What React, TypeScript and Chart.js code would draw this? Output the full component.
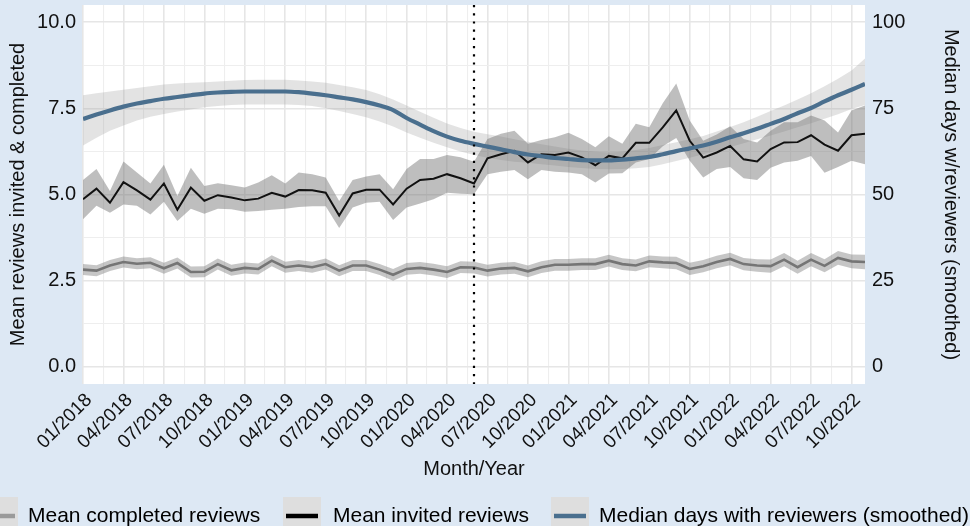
import React, { useEffect, useRef } from "react";
import { Chart, registerables } from "chart.js";
Chart.register(...registerables);

// ---------- data (monthly, 01/2018 .. 11/2022) ----------
const seriesNames = ["Mean completed reviews", "Mean invited reviews", "Median days with reviewers (smoothed)"];

const tickMonths = [0, 3, 6, 9, 12, 15, 18, 21, 24, 27, 30, 33, 36, 39, 42, 45, 48, 51, 54, 57];
const tickLabels = [
  "01/2018", "04/2018", "07/2018", "10/2018", "01/2019", "04/2019", "07/2019", "10/2019",
  "01/2020", "04/2020", "07/2020", "10/2020", "01/2021", "04/2021", "07/2021", "10/2021",
  "01/2022", "04/2022", "07/2022", "10/2022",
];
const leftTicks = [0, 2.5, 5, 7.5, 10];
const rightTicks = [0, 25, 50, 75, 100];
const covidMonth = 29; // 06/2020 dotted marker

const invited = [
  4.86, 5.17, 4.76, 5.36, 5.12, 4.85, 5.32, 4.56, 5.20, 4.82,
  4.98, 4.91, 4.83, 4.88, 5.05, 4.94, 5.13, 5.12, 5.05, 4.39,
  5.03, 5.14, 5.14, 4.71, 5.17, 5.42, 5.46, 5.59, 5.47, 5.32,
  6.05, 6.17, 6.27, 5.93, 6.17, 6.15, 6.22, 6.08, 5.85, 6.12,
  6.05, 6.50, 6.50, 6.95, 7.44, 6.56, 6.07, 6.22, 6.41, 6.02,
  5.96, 6.32, 6.51, 6.52, 6.72, 6.45, 6.27, 6.72, 6.76,
];
const invitedHi = [
  5.42, 5.74, 5.10, 5.96, 5.64, 5.32, 5.86, 4.96, 5.78, 5.25,
  5.33, 5.27, 5.20, 5.35, 5.56, 5.32, 5.64, 5.59, 5.49, 4.81,
  5.42, 5.52, 5.59, 5.15, 5.74, 6.03, 6.03, 6.15, 6.08, 5.95,
  6.61, 6.76, 6.85, 6.47, 6.58, 6.66, 6.79, 6.61, 6.37, 6.69,
  6.47, 7.05, 6.95, 7.65, 8.22, 7.15, 6.56, 6.74, 6.98, 6.61,
  6.51, 6.85, 7.10, 7.10, 7.29, 7.15, 6.80, 7.44, 7.58,
];
const invitedLo = [
  4.28, 4.67, 4.47, 4.71, 4.67, 4.42, 4.79, 4.23, 4.59, 4.44,
  4.59, 4.57, 4.50, 4.52, 4.56, 4.59, 4.64, 4.66, 4.66, 4.03,
  4.62, 4.76, 4.79, 4.26, 4.62, 4.74, 4.86, 5.05, 5.02, 5.01,
  5.59, 5.66, 5.71, 5.44, 5.71, 5.66, 5.64, 5.59, 5.35, 5.61,
  5.62, 5.93, 6.03, 6.40, 6.64, 5.98, 5.49, 5.74, 5.80, 5.47,
  5.42, 5.78, 5.93, 5.98, 6.12, 5.63, 5.80, 5.98, 5.88,
];

const completed = [
  2.82, 2.79, 2.94, 3.04, 2.99, 3.02, 2.86, 3.01, 2.75, 2.76,
  2.98, 2.80, 2.87, 2.84, 3.08, 2.89, 2.94, 2.89, 2.98, 2.79,
  2.94, 2.94, 2.82, 2.67, 2.84, 2.87, 2.82, 2.75, 2.89, 2.88,
  2.79, 2.85, 2.87, 2.77, 2.89, 2.96, 2.96, 2.98, 2.98, 3.08,
  2.98, 2.94, 3.06, 3.03, 3.01, 2.84, 2.92, 3.04, 3.13, 2.98,
  2.94, 2.92, 3.11, 2.89, 3.11, 2.93, 3.16, 3.06, 3.04,
];
const completedHi = [
  2.98, 2.95, 3.10, 3.20, 3.15, 3.18, 3.02, 3.17, 2.91, 2.92,
  3.14, 2.96, 3.03, 3.00, 3.24, 3.05, 3.10, 3.05, 3.14, 2.95,
  3.10, 3.10, 2.98, 2.84, 3.01, 3.04, 2.99, 2.92, 3.06, 3.05,
  2.96, 3.02, 3.04, 2.94, 3.06, 3.13, 3.13, 3.15, 3.15, 3.25,
  3.15, 3.11, 3.23, 3.20, 3.19, 3.02, 3.10, 3.22, 3.31, 3.16,
  3.12, 3.11, 3.30, 3.08, 3.30, 3.12, 3.36, 3.26, 3.25,
];
const completedLo = [
  2.66, 2.63, 2.78, 2.88, 2.83, 2.86, 2.70, 2.85, 2.59, 2.60,
  2.82, 2.64, 2.71, 2.68, 2.92, 2.73, 2.78, 2.73, 2.82, 2.63,
  2.78, 2.78, 2.66, 2.50, 2.67, 2.70, 2.65, 2.58, 2.72, 2.71,
  2.62, 2.68, 2.70, 2.60, 2.72, 2.79, 2.79, 2.81, 2.81, 2.91,
  2.81, 2.77, 2.89, 2.86, 2.83, 2.66, 2.74, 2.86, 2.95, 2.80,
  2.76, 2.73, 2.92, 2.70, 2.92, 2.74, 2.96, 2.86, 2.83,
];

const medianDays = [
  71.9, 73.2, 74.4, 75.5, 76.4, 77.1, 77.8, 78.3, 78.8, 79.3,
  79.6, 79.8, 79.9, 79.9, 79.9, 79.9, 79.7, 79.3, 78.8, 78.2,
  77.6, 76.8, 75.8, 74.5, 72.2, 70.3, 68.4, 66.8, 65.6, 64.7,
  63.9, 63.1, 62.3, 61.6, 61.1, 60.6, 60.3, 60.0, 59.9, 59.9,
  60.1, 60.5, 60.9, 61.7, 62.6, 63.4, 64.2, 65.3, 66.6, 67.8,
  69.1, 70.5, 71.9, 73.6, 75.1, 77.0, 78.8, 80.4, 82.1,
];
const medianDaysHi = [
  78.8, 79.4, 79.9, 80.4, 80.9, 81.4, 81.9, 82.2, 82.4, 82.6,
  82.8, 83.0, 83.2, 83.3, 83.3, 83.3, 83.1, 82.8, 82.4, 81.8,
  81.1, 80.3, 79.1, 77.6, 75.8, 74.0, 72.3, 70.6, 69.3, 68.2,
  67.5, 66.8, 66.0, 65.3, 64.6, 63.9, 63.3, 62.8, 62.4, 62.2,
  62.4, 62.9, 63.5, 64.4, 65.2, 66.0, 67.0, 68.3, 69.6, 71.0,
  72.6, 74.2, 75.8, 77.6, 79.4, 81.4, 83.6, 86.0, 89.5,
];
const medianDaysLo = [
  64.2, 66.5, 68.5, 70.0, 71.5, 72.6, 73.4, 74.1, 74.7, 75.3,
  75.7, 76.0, 76.1, 76.1, 76.1, 76.1, 76.0, 75.7, 75.0, 74.2,
  73.4, 72.4, 71.2, 69.7, 68.0, 66.5, 65.0, 63.7, 62.5, 61.5,
  60.7, 60.0, 59.5, 59.2, 58.8, 58.4, 58.0, 57.7, 57.4, 57.3,
  57.4, 57.6, 58.0, 58.8, 59.7, 60.7, 61.7, 62.8, 63.8, 64.9,
  66.0, 67.1, 68.3, 69.5, 70.7, 72.0, 73.3, 74.8, 76.0,
];

// ---------- styling ----------
const FONT = "'Liberation Sans', Arial, Helvetica, sans-serif";
const BG = "#dde8f4";
const GRID_MAJOR = "#e6e6e6";
const GRID_MINOR = "#eeeeee";
const COL_COMPLETED = "#757575";
const COL_INVITED = "#111111";
const COL_MEDIAN = "#4a6f8e";

const pts = (arr: number[]) => arr.map((v, i) => ({ x: i, y: v }));

const bgPlugin = {
  id: "bgPanel",
  beforeDraw(chart: any) {
    const { ctx, chartArea: a, width, height } = chart;
    ctx.save();
    ctx.fillStyle = BG;
    ctx.fillRect(0, 0, width, height);
    ctx.fillStyle = "#ffffff";
    ctx.fillRect(a.left, a.top, a.right - a.left, a.bottom - a.top);
    ctx.restore();
  },
};

const markerPlugin = {
  id: "covidMarker",
  afterDatasetsDraw(chart: any) {
    const { ctx, chartArea: a, scales } = chart;
    const x = scales.x.getPixelForValue(covidMonth);
    ctx.save();
    ctx.strokeStyle = "#000";
    ctx.lineWidth = 2.2;
    ctx.setLineDash([2.2, 6]);
    ctx.beginPath();
    ctx.moveTo(x, a.top);
    ctx.lineTo(x, a.bottom);
    ctx.stroke();
    ctx.restore();
  },
};

const legendPlugin = {
  id: "bottomLegend",
  afterDraw(chart: any) {
    const { ctx } = chart;
    const items = [
      { label: seriesNames[0], color: "#9a9a9a", keyX: -20, textX: 28 },
      { label: seriesNames[1], color: "#000000", keyX: 283, textX: 333 },
      { label: seriesNames[2], color: COL_MEDIAN, keyX: 551, textX: 599 },
    ];
    ctx.save();
    const cy = 516;
    items.forEach((it) => {
      ctx.fillStyle = "#dedede";
      ctx.fillRect(it.keyX, 497, 38, 36);
      ctx.strokeStyle = it.color;
      ctx.lineWidth = 4.5;
      ctx.beginPath();
      ctx.moveTo(it.keyX + 3, cy);
      ctx.lineTo(it.keyX + 35, cy);
      ctx.stroke();
      ctx.fillStyle = "#000";
      ctx.font = `21px ${FONT}`;
      ctx.textBaseline = "middle";
      ctx.textAlign = "left";
      ctx.fillText(it.label, it.textX, cy);
    });
    ctx.restore();
  },
};

const band = (hi: number[], lo: number[], hiIndex: number, color: string, axis: string, order: number) => [
  {
    data: pts(hi), yAxisID: axis, borderWidth: 0, borderColor: "rgba(0,0,0,0)",
    pointRadius: 0, fill: false, order: order + 1,
  },
  {
    data: pts(lo), yAxisID: axis, borderWidth: 0, borderColor: "rgba(0,0,0,0)",
    pointRadius: 0, fill: hiIndex, backgroundColor: color, order,
  },
];

const noPad = (s: any) => {
  s.paddingTop = 0;
  s.paddingBottom = 0;
  s.paddingLeft = 0;
  s.paddingRight = 0;
};

export default function App() {
  const ref = useRef<HTMLCanvasElement | null>(null);

  useEffect(() => {
    document.body.style.margin = "0";
    document.body.style.overflow = "hidden";
    const majorX = new Set(tickMonths);
    const xGrid: number[] = [];
    for (let k = 0; k < tickMonths.length; k++) {
      xGrid.push(tickMonths[k]);
      if (tickMonths[k] + 1.5 <= invited.length - 1) xGrid.push(tickMonths[k] + 1.5);
    }
    const yGrid: number[] = [];
    for (let k = 0; k < leftTicks.length; k++) {
      yGrid.push(leftTicks[k]);
      if (k < leftTicks.length - 1) yGrid.push((leftTicks[k] + leftTicks[k + 1]) / 2);
    }
    const majorY = new Set(leftTicks);

    const datasets: any[] = [
      ...band(medianDaysHi, medianDaysLo, 0, "rgba(150,150,150,0.27)", "y2", 9),
      ...band(invitedHi, invitedLo, 2, "rgba(110,110,110,0.45)", "y", 7),
      ...band(completedHi, completedLo, 4, "rgba(120,120,120,0.42)", "y", 5),
      {
        label: seriesNames[0], data: pts(completed), yAxisID: "y", borderColor: COL_COMPLETED,
        borderWidth: 2.6, pointRadius: 0, fill: false, tension: 0, order: 3,
      },
      {
        label: seriesNames[1], data: pts(invited), yAxisID: "y", borderColor: COL_INVITED,
        borderWidth: 2, pointRadius: 0, fill: false, tension: 0, order: 2,
      },
      {
        label: seriesNames[2], data: pts(medianDays), yAxisID: "y2", borderColor: COL_MEDIAN,
        borderWidth: 4.2, pointRadius: 0, fill: false, cubicInterpolationMode: "monotone", order: 1,
      },
    ];

    const chart = new Chart(ref.current as HTMLCanvasElement, {
      type: "line",
      data: { datasets },
      plugins: [bgPlugin, markerPlugin, legendPlugin],
      options: {
        animation: false,
        responsive: false,
        devicePixelRatio: 1,
        layout: { padding: { top: 5, bottom: 45, left: 0, right: 0 } },
        plugins: { legend: { display: false }, tooltip: { enabled: false } },
        scales: {
          x: {
            type: "linear",
            position: "bottom",
            min: 0,
            max: invited.length - 1,
            afterBuildTicks: (s: any) => { s.ticks = xGrid.map((v) => ({ value: v })); },
            afterFit: (s: any) => { s.height = 97; noPad(s); },
            border: { display: false },
            grid: {
              drawTicks: false,
              color: (c: any) => (c.tick && majorX.has(c.tick.value) ? GRID_MAJOR : GRID_MINOR),
              lineWidth: (c: any) => (c.tick && majorX.has(c.tick.value) ? 1.6 : 1.1),
            },
            ticks: {
              autoSkip: false,
              minRotation: 45,
              maxRotation: 45,
              padding: 5,
              labelOffset: 6,
              color: "#111",
              font: { family: FONT, size: 19 },
              callback: (v: any) => {
                const k = tickMonths.indexOf(Number(v));
                return k >= 0 ? tickLabels[k] : "";
              },
            },
            title: {
              display: true, text: "Month/Year", color: "#111",
              font: { family: FONT, size: 20 }, padding: { top: 0, bottom: 0 },
            },
          },
          y: {
            type: "linear",
            position: "left",
            min: -0.5,
            max: 10.5,
            afterBuildTicks: (s: any) => { s.ticks = yGrid.map((v) => ({ value: v })); },
            afterFit: (s: any) => { s.width = 83; noPad(s); },
            border: { display: false },
            grid: {
              drawTicks: false,
              color: (c: any) => (c.tick && majorY.has(c.tick.value) ? GRID_MAJOR : GRID_MINOR),
              lineWidth: (c: any) => (c.tick && majorY.has(c.tick.value) ? 1.6 : 1.1),
            },
            ticks: {
              padding: 7,
              color: "#111",
              font: { family: FONT, size: 20 },
              callback: (v: any) => (majorY.has(Number(v)) ? Number(v).toFixed(1) : ""),
            },
            title: {
              display: true, text: "Mean reviews invited & completed", color: "#111",
              font: { family: FONT, size: 20 }, padding: { top: 6, bottom: 0 },
            },
          },
          y2: {
            type: "linear",
            position: "right",
            min: -5,
            max: 105,
            afterBuildTicks: (s: any) => { s.ticks = rightTicks.map((v) => ({ value: v })); },
            afterFit: (s: any) => { s.width = 105; noPad(s); },
            border: { display: false },
            grid: { display: false, drawTicks: false },
            ticks: {
              padding: 7,
              color: "#111",
              font: { family: FONT, size: 20 },
              callback: (v: any) => String(v),
            },
            title: {
              display: true, text: "Median days w/reviewers (smoothed)", color: "#111",
              font: { family: FONT, size: 20 }, padding: { top: 7, bottom: 7 },
            },
          },
        },
      } as any,
    });
    return () => chart.destroy();
  }, []);

  return (
    <div style={{ width: 970, height: 526, position: "relative" }}>
      <canvas ref={ref} width={970} height={526} style={{ display: "block" }} />
    </div>
  );
}
